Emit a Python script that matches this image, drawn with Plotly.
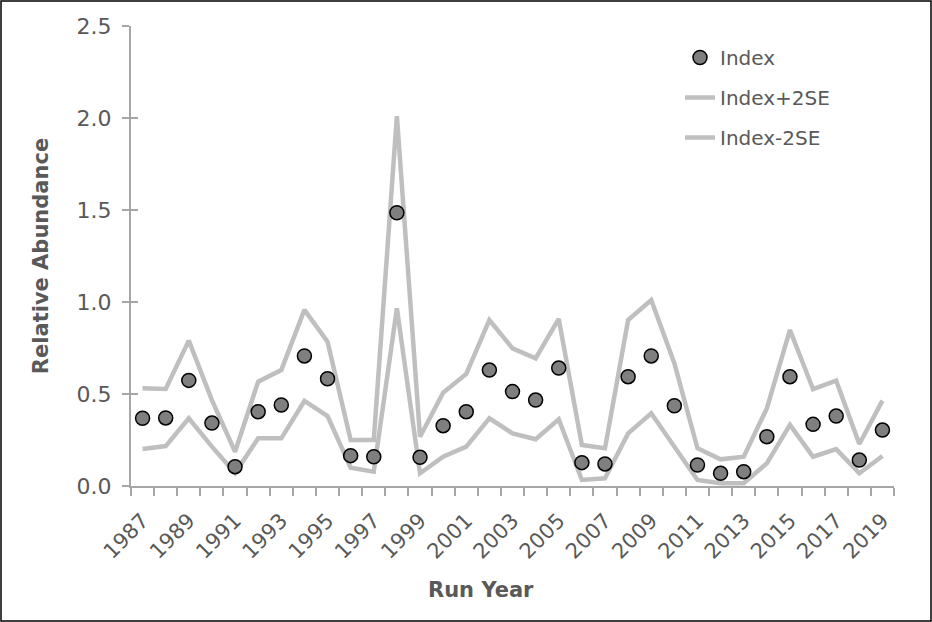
import plotly.graph_objects as go

years = list(range(1987, 2020))
index_vals = [0.368, 0.370, 0.574, 0.342, 0.105, 0.404, 0.440, 0.707, 0.583, 0.165,
              0.159, 1.485, 0.156, 0.328, 0.404, 0.630, 0.513, 0.467, 0.641, 0.127,
              0.120, 0.594, 0.707, 0.436, 0.114, 0.069, 0.078, 0.268, 0.594, 0.335,
              0.380, 0.141, 0.304]
upper_vals = [0.531, 0.527, 0.790, 0.467, 0.186, 0.567, 0.630, 0.957, 0.784, 0.250,
              0.250, 2.010, 0.268, 0.507, 0.609, 0.902, 0.748, 0.694, 0.908, 0.223,
              0.205, 0.902, 1.011, 0.667, 0.205, 0.145, 0.159, 0.422, 0.848, 0.526,
              0.572, 0.228, 0.464]
lower_vals = [0.201, 0.217, 0.368, 0.214, 0.071, 0.259, 0.259, 0.462, 0.380, 0.099,
              0.078, 0.966, 0.069, 0.159, 0.214, 0.368, 0.286, 0.254, 0.363, 0.033,
              0.042, 0.286, 0.395, 0.214, 0.033, 0.015, 0.015, 0.123, 0.332, 0.159,
              0.200, 0.069, 0.163]
label_years = years[::2]
y_ticks = [0.0, 0.5, 1.0, 1.5, 2.0, 2.5]

FONT = "DejaVu Sans"
TXT = "#595959"
AX = "#A6A6A6"
LINE = "#BFBFBF"

fig = go.Figure()
fig.add_trace(go.Scatter(x=years, y=upper_vals, mode="lines", name="Index+2SE",
                         line=dict(color=LINE, width=4.5), legendrank=2,
                         legendgroup="b"))
fig.add_trace(go.Scatter(x=years, y=lower_vals, mode="lines", name="Index-2SE",
                         line=dict(color=LINE, width=4.5), legendrank=3,
                         legendgroup="c"))
fig.add_trace(go.Scatter(x=years, y=index_vals, mode="markers", name="Index",
                         marker=dict(color="#7F7F7F", size=14,
                                     line=dict(color="#000000", width=1.5)),
                         legendrank=1, legendgroup="a"))
# invisible trace to host the crossing-tick overlay axis
fig.add_trace(go.Scatter(x=[years[0]], y=[0], yaxis="y2", mode="markers",
                         marker=dict(opacity=0), showlegend=False, hoverinfo="skip"))

W, H = 932, 622
ml, mr, mt, mb = 131, 38, 26, 136
pw, ph = W - ml - mr, H - mt - mb

fig.update_layout(
    width=W, height=H,
    margin=dict(l=ml, r=mr, t=mt, b=mb, autoexpand=False),
    paper_bgcolor="white", plot_bgcolor="white",
    font=dict(family=FONT, color=TXT, size=20),
    showlegend=True,
    legend=dict(x=(680 - ml) / pw, y=1 - (38 - mt) / ph, xanchor="left", yanchor="top",
                bgcolor="rgba(0,0,0,0)", font=dict(size=20, color=TXT),
                tracegroupgap=11, itemwidth=30),
    xaxis=dict(range=[years[0] - 0.5, years[-1] + 0.5], tickmode="array",
               tickvals=label_years, ticktext=[str(y) for y in label_years],
               tickangle=-45, ticks="", showline=True, linecolor=AX, linewidth=2,
               showgrid=False, zeroline=False, ticklabelstandoff=12,
               tickfont=dict(size=21, color=TXT, family=FONT),
               minor=dict(tickmode="array",
                          tickvals=[y - 0.5 for y in years] + [years[-1] + 0.5],
                          ticks="outside", ticklen=8, tickwidth=2, tickcolor=AX)),
    yaxis=dict(range=[0, 2.5], tickmode="array", tickvals=y_ticks,
               ticktext=[f"{v:.1f}" for v in y_ticks],
               ticks="outside", ticklen=7, tickwidth=2, tickcolor=AX,
               showline=True, linecolor=AX, linewidth=2, showgrid=False, zeroline=False,
               ticklabelstandoff=6,
               tickfont=dict(size=22, color=TXT, family=FONT),
               title=dict(text="<b>Relative Abundance</b>",
                          font=dict(size=21, color=TXT, family=FONT), standoff=22)),
    yaxis2=dict(range=[0, 2.5], overlaying="y", side="left", tickmode="array",
                tickvals=y_ticks, ticks="inside", ticklen=7, tickwidth=2, tickcolor=AX,
                showticklabels=False, showline=False, showgrid=False, zeroline=False),
)

fig.add_annotation(text="<b>Run Year</b>", xref="paper", yref="paper",
                   x=(481 - ml) / pw, y=-(590 - (H - mb)) / ph,
                   xanchor="center", yanchor="middle", showarrow=False,
                   font=dict(size=21, color=TXT, family=FONT))

fig.add_shape(type="rect", xref="paper", yref="paper",
              x0=-(ml - 1) / pw, x1=1 + (mr - 1) / pw,
              y0=-(mb - 1) / ph, y1=1 + (mt - 1) / ph,
              line=dict(color="black", width=1.5), fillcolor="rgba(0,0,0,0)", layer="below")

fig.write_html("out.html", config={"displayModeBar": False},
               post_script="document.body.style.margin='0';document.body.style.overflow='hidden';")
